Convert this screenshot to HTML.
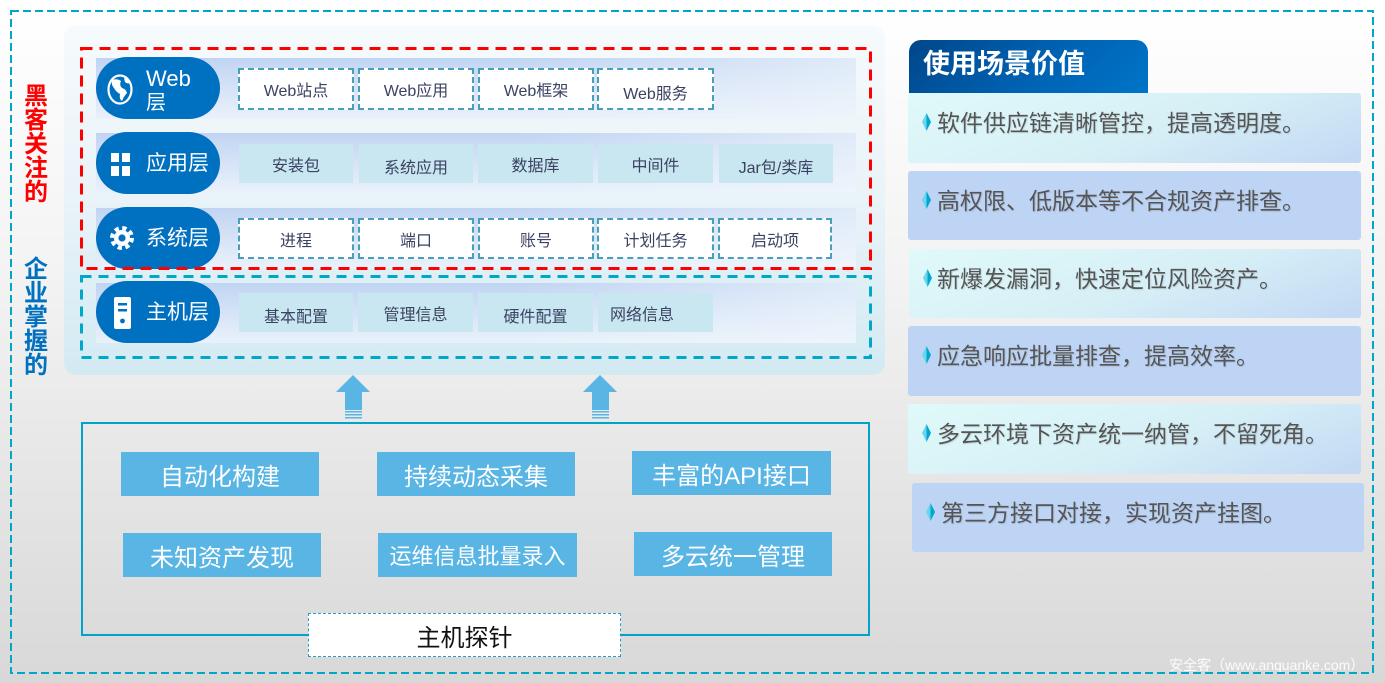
<!DOCTYPE html>
<html><head><meta charset="utf-8">
<style>
*{margin:0;padding:0;box-sizing:border-box}
body{width:1385px;height:683px;overflow:hidden;position:relative;font-family:"Liberation Sans","Noto Sans CJK SC",sans-serif;background:linear-gradient(180deg,#ffffff 0%,#f3f3f3 40%,#d8d8d8 100%)}
.a{position:absolute}
.panel{left:64px;top:26px;width:821px;height:349px;border-radius:12px;background:linear-gradient(180deg,#f6fafd 0%,#e9f3f8 50%,#d3eaf3 100%)}
.band{left:96px;width:760px;height:61px;background:linear-gradient(90deg,rgba(255,255,255,0) 55%,rgba(240,246,252,0.65) 100%),linear-gradient(180deg,#c0d4f2 0%,#d6e3f7 50%,#e9f1fb 100%)}
.pill{left:96px;width:124px;height:62px;border-radius:31px;background:#0070c0;color:#fff}
.pt{position:absolute;left:50px;font-size:21px;line-height:21px;white-space:nowrap}
.cell{position:absolute;display:flex;align-items:center;justify-content:center;font-size:16px;color:#3b4262;white-space:nowrap}
.dc{background:#fff;border:2px dashed #4a9fb8}
.sc{background:#c9e7f0}
.vt{left:23px;width:26px;font-size:24px;line-height:24px;font-weight:bold;text-align:center}
.btn{position:absolute;background:#58b5e4;color:#fff;font-size:24px;display:flex;align-items:center;justify-content:center;white-space:nowrap}
.card{position:absolute;border-radius:3px;font-size:23px;line-height:23px;color:#555;text-shadow:1px 1px 1px rgba(0,0,0,0.12);white-space:nowrap}
.c1{background:linear-gradient(160deg,#e0fafa 0%,#d6eff6 55%,#c2d8f4 100%)}
.c2{background:#bed4f4}
.card span.t{position:absolute;left:29px;top:19px}
.card svg{position:absolute;left:14px;top:20px}
</style></head><body>

<div class="a panel"></div>

<!-- bands -->
<div class="a band" style="top:58px"></div>
<div class="a band" style="top:133px;height:60px"></div>
<div class="a band" style="top:208px;height:60px"></div>
<div class="a band" style="top:283px;height:60px"></div>

<!-- pills -->
<div class="a pill" style="top:57px">
  <div class="pt" style="top:11px;font-size:22px;line-height:22px">Web</div>
  <div class="pt" style="top:36px;font-size:20px;line-height:20px">层</div>
</div>
<div class="a pill" style="top:132px"><div class="pt" style="top:21px">应用层</div></div>
<div class="a pill" style="top:207px"><div class="pt" style="top:21px">系统层</div></div>
<div class="a pill" style="top:281px"><div class="pt" style="top:21px">主机层</div></div>

<!-- Web row -->
<div class="cell dc" style="left:238px;top:68px;width:116px;height:42px">Web站点</div>
<div class="cell dc" style="left:358px;top:68px;width:116px;height:42px">Web应用</div>
<div class="cell dc" style="left:478px;top:68px;width:116px;height:42px">Web框架</div>
<div class="cell dc" style="left:597px;top:68px;width:117px;height:42px;padding-top:5px">Web服务</div>
<!-- App row -->
<div class="cell sc" style="left:239px;top:144px;width:114px;height:39px">安装包</div>
<div class="cell sc" style="left:359px;top:144px;width:114px;height:39px;padding-top:5px">系统应用</div>
<div class="cell sc" style="left:478px;top:144px;width:115px;height:39px">数据库</div>
<div class="cell sc" style="left:598px;top:144px;width:115px;height:39px">中间件</div>
<div class="cell sc" style="left:719px;top:144px;width:114px;height:39px;padding-top:4px">Jar包/类库</div>
<!-- Sys row -->
<div class="cell dc" style="left:238px;top:218px;width:116px;height:41px">进程</div>
<div class="cell dc" style="left:358px;top:218px;width:116px;height:41px">端口</div>
<div class="cell dc" style="left:478px;top:218px;width:116px;height:41px">账号</div>
<div class="cell dc" style="left:597px;top:218px;width:117px;height:41px">计划任务</div>
<div class="cell dc" style="left:718px;top:218px;width:114px;height:41px">启动项</div>
<!-- Host row -->
<div class="cell sc" style="left:239px;top:293px;width:114px;height:39px;padding-top:5px">基本配置</div>
<div class="cell sc" style="left:358px;top:293px;width:115px;height:39px">管理信息</div>
<div class="cell sc" style="left:478px;top:293px;width:115px;height:39px;padding-top:5px">硬件配置</div>
<div class="cell sc" style="left:598px;top:293px;width:115px;height:39px;justify-content:flex-start;padding-left:12px">网络信息</div>

<!-- vertical labels -->
<div class="a vt" style="top:85px;color:#ff0000">黑<br>客<br>关<br>注<br>的</div>
<div class="a vt" style="top:258px;color:#0070c0">企<br>业<br>掌<br>握<br>的</div>

<!-- bottom box -->
<div class="a" style="left:81px;top:422px;width:789px;height:214px;border:2px solid #00a4c8"></div>
<div class="btn" style="left:121px;top:452px;width:198px;height:44px">自动化构建</div>
<div class="btn" style="left:377px;top:452px;width:198px;height:44px">持续动态采集</div>
<div class="btn" style="left:632px;top:451px;width:199px;height:44px">丰富的API接口</div>
<div class="btn" style="left:123px;top:533px;width:198px;height:44px">未知资产发现</div>
<div class="btn" style="left:378px;top:533px;width:199px;height:44px;font-size:22px">运维信息批量录入</div>
<div class="btn" style="left:634px;top:532px;width:198px;height:44px">多云统一管理</div>
<div class="a" style="left:308px;top:613px;width:313px;height:44px;background:#fff;border:1px dashed #2b9bbf;display:flex;align-items:center;justify-content:center;font-size:24px;color:#111">主机探针</div>

<!-- right side -->
<div class="a" style="left:909px;top:40px;width:239px;height:53px;border-radius:12px 12px 0 0;background:linear-gradient(135deg,#00468a 0%,#0060b0 50%,#0074c8 100%);color:#fff;font-size:27px;font-weight:bold;line-height:27px;padding:11px 0 0 14px;white-space:nowrap">使用场景价值</div>

<div class="card c1" style="left:908px;top:93px;width:453px;height:70px"><svg width="9" height="18" viewBox="0 0 9 18"><polygon points="4.5,0 0,9 4.5,18" fill="#6ad6ea"/><polygon points="4.5,0 9,9 4.5,18" fill="#00a6d2"/></svg><span class="t">软件供应链清晰管控，提高透明度。</span></div>
<div class="card c2" style="left:908px;top:171px;width:453px;height:69px"><svg width="9" height="18" viewBox="0 0 9 18"><polygon points="4.5,0 0,9 4.5,18" fill="#6ad6ea"/><polygon points="4.5,0 9,9 4.5,18" fill="#00a6d2"/></svg><span class="t">高权限、低版本等不合规资产排查。</span></div>
<div class="card c1" style="left:909px;top:249px;width:452px;height:69px"><svg width="9" height="18" viewBox="0 0 9 18"><polygon points="4.5,0 0,9 4.5,18" fill="#6ad6ea"/><polygon points="4.5,0 9,9 4.5,18" fill="#00a6d2"/></svg><span class="t" style="left:28px">新爆发漏洞，快速定位风险资产。</span></div>
<div class="card c2" style="left:908px;top:326px;width:453px;height:70px"><svg width="9" height="18" viewBox="0 0 9 18"><polygon points="4.5,0 0,9 4.5,18" fill="#6ad6ea"/><polygon points="4.5,0 9,9 4.5,18" fill="#00a6d2"/></svg><span class="t">应急响应批量排查，提高效率。</span></div>
<div class="card c1" style="left:908px;top:404px;width:453px;height:70px"><svg width="9" height="18" viewBox="0 0 9 18"><polygon points="4.5,0 0,9 4.5,18" fill="#6ad6ea"/><polygon points="4.5,0 9,9 4.5,18" fill="#00a6d2"/></svg><span class="t">多云环境下资产统一纳管，不留死角。</span></div>
<div class="card c2" style="left:912px;top:483px;width:452px;height:69px"><svg width="9" height="18" viewBox="0 0 9 18"><polygon points="4.5,0 0,9 4.5,18" fill="#6ad6ea"/><polygon points="4.5,0 9,9 4.5,18" fill="#00a6d2"/></svg><span class="t">第三方接口对接，实现资产挂图。</span></div>

<div class="a" style="left:1169px;top:655px;font-size:14px;color:rgba(255,255,255,0.9);white-space:nowrap">安全客（www.anquanke.com）</div>

<!-- overlay svg: dashed frames, arrows, icons -->
<svg class="a" style="left:0;top:0" width="1385" height="683" viewBox="0 0 1385 683">
  <rect x="11" y="11" width="1362" height="662" fill="none" stroke="#00a8c8" stroke-width="2" stroke-dasharray="8 4"/>
  <rect x="81.5" y="48.5" width="789" height="220" fill="none" stroke="#ff0000" stroke-width="3" stroke-dasharray="11 7"/>
  <rect x="81.5" y="276.5" width="789" height="81" fill="none" stroke="#00a8c8" stroke-width="3" stroke-dasharray="10 7"/>
  <!-- arrows -->
  <g fill="#58b5e4">
    <polygon points="336,392 353,375 370,392"/>
    <rect x="345" y="391" width="17" height="19"/>
    <rect x="345" y="411" width="17" height="1.5"/>
    <rect x="345" y="414" width="17" height="1.5"/>
    <rect x="345" y="417" width="17" height="1.5"/>
    <polygon points="583,392 600,375 617,392"/>
    <rect x="592" y="391" width="17" height="19"/>
    <rect x="592" y="411" width="17" height="1.5"/>
    <rect x="592" y="414" width="17" height="1.5"/>
    <rect x="592" y="417" width="17" height="1.5"/>
  </g>
  <!-- globe -->
  <ellipse cx="120" cy="89.5" rx="11.5" ry="14" fill="none" stroke="#fff" stroke-width="2.2"/>
  <path d="M112,80 Q117,78 121,81 Q119,85 122,88 Q126,89 127,93 Q124,96 122,101 Q119,99 120,94 Q116,92 114,88 Q111,85 112,80Z" fill="#fff"/>
  <path d="M124,78 Q128,79 130,83 Q127,84 125,82Z" fill="#fff"/>
  <!-- grid -->
  <g fill="#fff">
    <rect x="111" y="153" width="8" height="9"/><rect x="122" y="153" width="8" height="9"/>
    <rect x="111" y="166" width="8" height="10"/><rect x="122" y="166" width="8" height="10"/>
  </g>
  <!-- gear -->
  <circle cx="122" cy="238" r="8" fill="#fff"/>
  <circle cx="122" cy="238" r="10" fill="none" stroke="#fff" stroke-width="4" stroke-dasharray="4.3 3.55"/>
  <circle cx="122" cy="238" r="3.6" fill="#0070c0"/>
  <!-- server -->
  <rect x="114" y="297" width="17" height="32" rx="2" fill="#fff"/>
  <rect x="118" y="303" width="9" height="2.5" fill="#0070c0"/>
  <rect x="118" y="309" width="9" height="2.5" fill="#0070c0"/>
  <circle cx="122.5" cy="321" r="2.4" fill="#0070c0"/>
</svg>
</body></html>
